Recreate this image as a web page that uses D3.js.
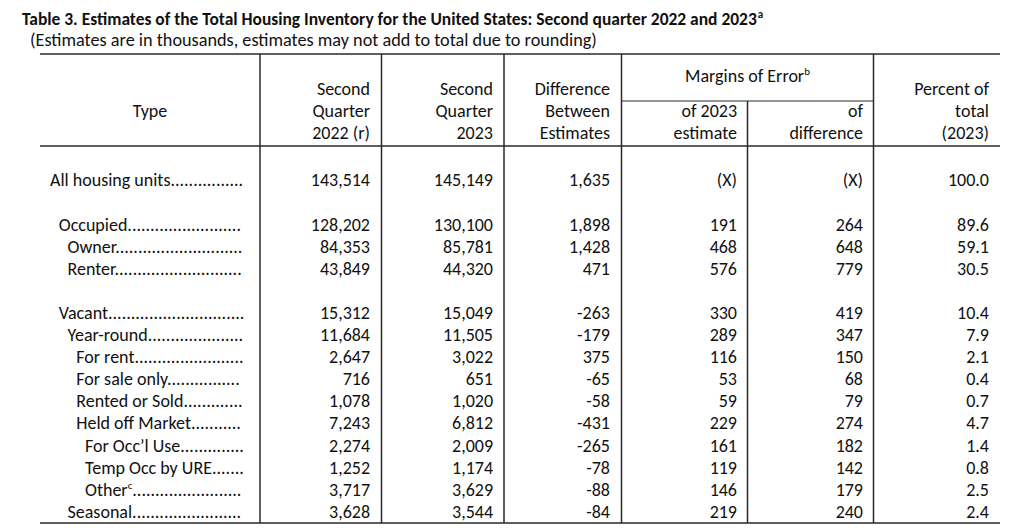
<!DOCTYPE html>
<html>
<head>
<meta charset="utf-8">
<script src="https://cdn.jsdelivr.net/npm/d3@7"></script>
<style>
  html, body { margin: 0; padding: 0; background: #fff; }
  svg { display: block; }
  text { font-family: Carlito, Calibri, Lato, "Open Sans", sans-serif; fill: #111; }
</style>
</head>
<body>
<svg id="chart" width="1024" height="528"></svg>
<script>
// ---- Data ----
const titleText = "Table 3. Estimates of the Total Housing Inventory for the United States: Second quarter 2022 and 2023";
const titleSup = "a";
const subtitleText = "(Estimates are in thousands, estimates may not add to total due to rounding)";

const types = ["All housing units", "Occupied", "Owner", "Renter", "Vacant", "Year-round", "For rent",
  "For sale only", "Rented or Sold", "Held off Market", "For Occ\u2019l Use", "Temp Occ by URE", "Other", "Seasonal"];
const typeSup = ["", "", "", "", "", "", "", "", "", "", "", "", "c", ""];
const indentLevel = [0, 1, 2, 2, 1, 2, 3, 3, 3, 3, 4, 4, 4, 2];
const rowGroup = [0, 1, 1, 1, 2, 2, 2, 2, 2, 2, 2, 2, 2, 2];

const q2022 = ["143,514", "128,202", "84,353", "43,849", "15,312", "11,684", "2,647", "716", "1,078", "7,243", "2,274", "1,252", "3,717", "3,628"];
const q2023 = ["145,149", "130,100", "85,781", "44,320", "15,049", "11,505", "3,022", "651", "1,020", "6,812", "2,009", "1,174", "3,629", "3,544"];
const diffEst = ["1,635", "1,898", "1,428", "471", "-263", "-179", "375", "-65", "-58", "-431", "-265", "-78", "-88", "-84"];
const moe2023 = ["(X)", "191", "468", "576", "330", "289", "116", "53", "59", "229", "161", "119", "146", "219"];
const moeDiff = ["(X)", "264", "648", "779", "419", "347", "150", "68", "79", "274", "182", "142", "179", "240"];
const pctTotal = ["100.0", "89.6", "59.1", "30.5", "10.4", "7.9", "2.1", "0.4", "0.7", "4.7", "1.4", "0.8", "2.5", "2.4"];

const colKeys = ["q2022", "q2023", "diff", "moe2023", "moeDiff", "pct"];
const colHeaders = [
  ["Second", "Quarter", "2022 (r)"],
  ["Second", "Quarter", "2023"],
  ["Difference", "Between", "Estimates"],
  ["of 2023", "estimate"],
  ["of", "difference"],
  ["Percent of", "total", "(2023)"]
];
const groupHeader = "Margins of Error";
const groupHeaderSup = "b";
const typeHeader = "Type";

// ---- Layout ----
const svg = d3.select("#chart");
const FS = 18;
const SUP = 11;
const ink = "#2a2a2a";

const colRight = d3.scaleOrdinal().domain(colKeys).range([370, 493, 610, 737, 863, 989]);
const slot = rowGroup.map((g, i) => i + g);
const yRow = d3.scaleLinear().domain([0, 15]).range([180, 511.5]);
const headLine = d3.scaleLinear().domain([0, 2]).range([89, 133]);
const xIndent = d3.scaleLinear().domain([0, 4]).range([50, 85]);

const tableLeft = 40, tableRight = 1000, tableTop = 54, headBottom = 146, subHead = 101, tableBottom = 523;
const vLines = [260, 381.5, 504, 621.5, 873.5];
const moeSplit = 747.5;

function fitText(sel, target) {
  const w = sel.node().getComputedTextLength();
  const fs = parseFloat(sel.attr("font-size"));
  sel.attr("font-size", fs * target / w);
}
const title = svg.append("text").attr("x", 22).attr("y", 25).attr("font-size", 16).attr("font-weight", "bold").text(titleText);
fitText(title, 735);
title.append("tspan").attr("font-size", SUP).attr("dy", -7).attr("dx", 1).text(titleSup);

const sub = svg.append("text").attr("x", 30).attr("y", 46).attr("font-size", 16).text(subtitleText);
fitText(sub, 567);

// Lines
const lines = svg.append("g").attr("stroke", ink).attr("stroke-width", 1.5).attr("fill", "none");
[tableTop, headBottom, tableBottom].forEach(y => {
  lines.append("line").attr("x1", tableLeft).attr("x2", tableRight).attr("y1", y).attr("y2", y);
});
lines.append("line").attr("x1", 621.5).attr("x2", 873.5).attr("y1", subHead).attr("y2", subHead).attr("stroke-width", 1.2);
vLines.forEach(x => {
  lines.append("line").attr("x1", x).attr("x2", x).attr("y1", tableTop).attr("y2", tableBottom);
});
lines.append("line").attr("x1", moeSplit).attr("x2", moeSplit).attr("y1", subHead).attr("y2", tableBottom);

// Headers
svg.append("text").attr("x", 150).attr("y", 111).attr("dy", "0.35em").attr("text-anchor", "middle")
  .attr("font-size", FS).text(typeHeader);

colHeaders.forEach((lns, c) => {
  const offset = 3 - lns.length;
  lns.forEach((t, k) => {
    svg.append("text").attr("x", colRight(colKeys[c])).attr("y", headLine(k + offset)).attr("dy", "0.35em")
      .attr("text-anchor", "end").attr("font-size", FS).text(t);
  });
});

const gh = svg.append("text").attr("x", moeSplit).attr("y", 76).attr("dy", "0.35em")
  .attr("text-anchor", "middle").attr("font-size", FS).text(groupHeader);
gh.append("tspan").attr("font-size", SUP).attr("dy", -7).text(groupHeaderSup);

// Rows
const dotProbe = svg.append("text").attr("font-size", FS).text(".".repeat(100));
const dotW = dotProbe.node().getComputedTextLength() / 100;
dotProbe.remove();
const dotEnd = 245;

const colData = { q2022, q2023, diff: diffEst, moe2023, moeDiff, pct: pctTotal };

types.forEach((t, i) => {
  const y = yRow(slot[i]);
  const x = xIndent(indentLevel[i]);
  const lab = svg.append("text").attr("x", x).attr("y", y).attr("dy", "0.35em").attr("font-size", FS);
  lab.append("tspan").text(t);
  if (typeSup[i]) lab.append("tspan").attr("font-size", SUP).attr("dy", -7).text(typeSup[i]);
  const w = lab.node().getComputedTextLength();
  const n = Math.max(0, Math.floor((dotEnd - x - w) / dotW));
  lab.append("tspan").attr("dy", typeSup[i] ? 7 : 0).text(".".repeat(n));

  colKeys.forEach(k => {
    svg.append("text").attr("x", colRight(k)).attr("y", y).attr("dy", "0.35em")
      .attr("text-anchor", "end").attr("font-size", FS).text(colData[k][i]);
  });
});
</script>
</body>
</html>
